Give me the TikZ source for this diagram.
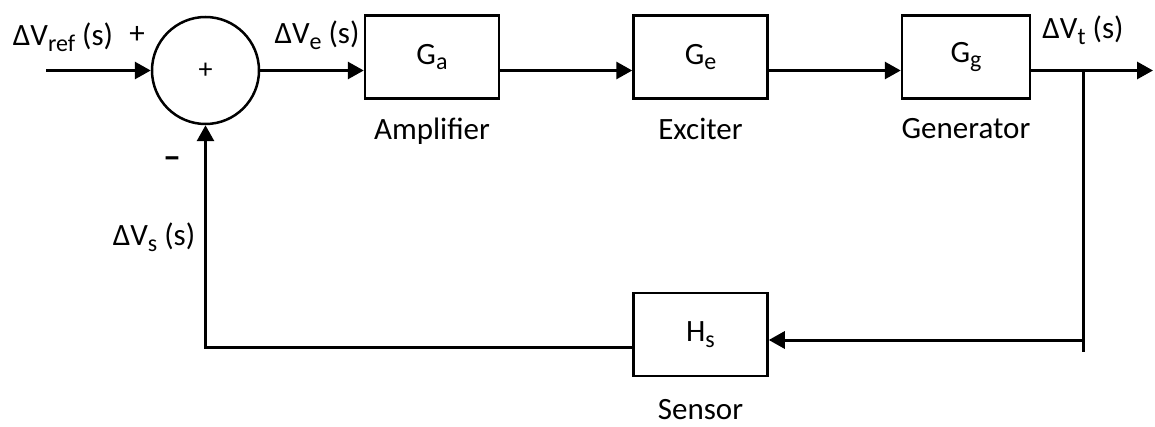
\documentclass[tikz,border=0pt]{standalone}
\usepackage{fontspec}
\setmainfont{Carlito}
\usetikzlibrary{positioning,arrows.meta}
\newcommand{\lowsub}[1]{\raisebox{-0.4ex}{\fontsize{24}{24}\selectfont #1}}

\begin{document}
\begin{tikzpicture}[
  x=1pt, y=1pt,
  node distance=132pt,
  line width=3pt,
  blk/.style={draw, line width=2.5pt, minimum width=134pt, minimum height=83pt, inner sep=0pt, font=\fontsize{31}{33}\selectfont},
  sumnode/.style={draw, circle, line width=2.5pt, minimum size=107pt, inner sep=0pt, font=\fontsize{28}{30}\selectfont},
  lbl/.style={inner sep=0pt, font=\fontsize{31}{33}\selectfont},
  sig/.style={-{Triangle[length=16pt,width=17pt]}},
]
\useasboundingbox (0,0) rectangle (1155,426);
% blocks
\node[sumnode] (sum) at (205.5,355.5) {+};
\node[blk] (ga) at (432,369) {G\lowsub{a}};
\node[blk, right=of ga] (ge) {G\lowsub{e}};
\node[blk, right=of ge, minimum width=128pt] (gg) {G\lowsub{g}};
\node[blk, below=192pt of ge] (hs) {H\lowsub{s}};
\node[lbl, below=17pt of ga] (amp) {Amplifier};
\node[lbl, below=17pt of ge] (exc) {Exciter};
\node[lbl, below=17pt of gg] (gen) {Generator};
\node[lbl, below=21pt of hs] (sen) {Sensor};
% signal labels
\node[lbl] (vref) at (63,389) {ΔV\lowsub{ref} (s)};
\node[lbl] (pin) at (137,391) {+};
\node[lbl] (ve) at (317,391) {ΔV\lowsub{e} (s)};
\node[lbl] (vt) at (1083,396) {ΔV\lowsub{t} (s)};
\node[lbl, font=\fontsize{36}{36}\selectfont\bfseries] (mn) at (172,263) {–};
\node[lbl] (vs) at (154,189) {ΔV\lowsub{s} (s)};
% connectors
\coordinate (in) at (46,355.5);
\coordinate (out) at (1153,355.5);
\coordinate (br) at (1083,355.5);
\coordinate (brend) at (1083,74);
\coordinate (fb) at (1083,86);
\coordinate (low) at (205.5,79);
\draw[sig] (in) -- (sum.west);
\draw[sig] (sum.east) -- (ga.west |- sum.east);
\draw[sig] (ga.east |- sum.east) -- (ge.west |- sum.east);
\draw[sig] (ge.east |- sum.east) -- (gg.west |- sum.east);
\draw[sig] (gg.east |- sum.east) -- (out);
\draw (br) -- (brend);
\draw[sig] (fb) -- (hs.east |- fb);
\draw[sig] (hs.west |- low) -- (low) -- (sum.south);
\end{tikzpicture}
\end{document}
